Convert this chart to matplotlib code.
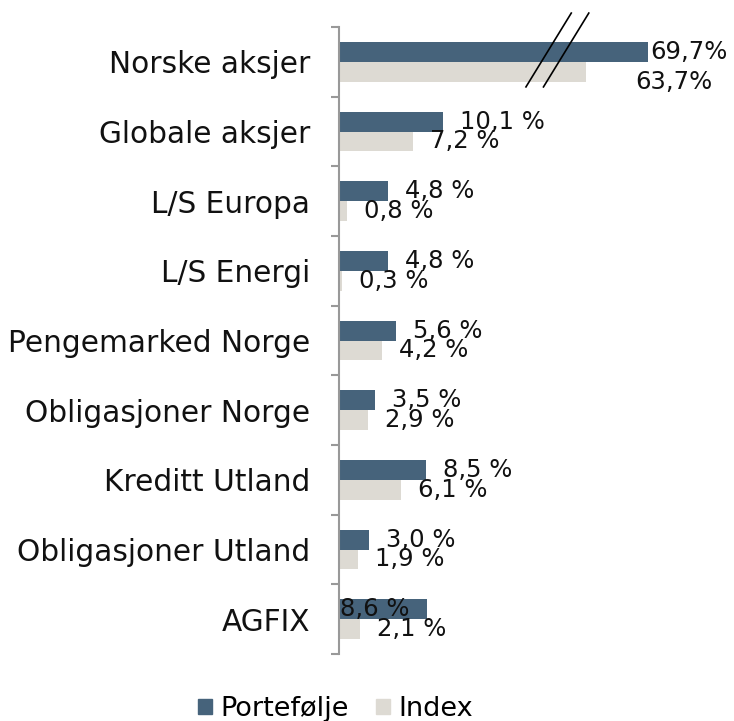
import matplotlib
matplotlib.use("Agg")
import matplotlib.pyplot as plt
from matplotlib.patches import Patch
import numpy as np

categories = ["Norske aksjer", "Globale aksjer", "L/S Europa", "L/S Energi",
              "Pengemarked Norge", "Obligasjoner Norge", "Kreditt Utland",
              "Obligasjoner Utland", "AGFIX"]
portefolje = [69.7, 10.1, 4.8, 4.8, 5.6, 3.5, 8.5, 3.0, 8.6]
index_vals = [63.7, 7.2, 0.8, 0.3, 4.2, 2.9, 6.1, 1.9, 2.1]
portefolje_labels = ["69,7%", "10,1 %", "4,8 %", "4,8 %", "5,6 %", "3,5 %", "8,5 %", "3,0 %", "8,6 %"]
index_labels = ["63,7%", "7,2 %", "0,8 %", "0,3 %", "4,2 %", "2,9 %", "6,1 %", "1,9 %", "2,1 %"]
# broken-axis display lengths for the first category
broken_display = {0: (30.0, 24.0)}

C_PORT = "#46637B"
C_IDX = "#DDDAD3"
FONT = "DejaVu Sans"

W, H, DPI = 734, 721, 100
fig = plt.figure(figsize=(W / DPI, H / DPI), dpi=DPI)
x0, y_top, y_bot = 338.5, 27, 654
xmax = 38.0
px_per = 10.3
ax = fig.add_axes([x0 / W, 1 - y_bot / H, xmax * px_per / W, (y_bot - y_top) / H])

n = len(categories)
ypos = np.arange(n)
bh = 0.287
p_disp = list(portefolje)
i_disp = list(index_vals)
for k, (pv, iv) in broken_display.items():
    p_disp[k] = pv
    i_disp[k] = iv

ax.barh(ypos - bh / 2, p_disp, height=bh, color=C_PORT, label="Portefølje")
ax.barh(ypos + bh / 2, i_disp, height=bh, color=C_IDX, label="Index")

ax.set_ylim(n - 0.5, -0.5)
ax.set_xlim(0, xmax)

# label offsets in pixels (dx, dy)
p_off = {0: (3, 0), 8: (-87, 0)}
i_off = {0: (50, -10)}
fs_val = 17.5
to_pt = 72 / DPI
for k in range(n):
    dx, dy = p_off.get(k, (17, 0))
    ax.annotate(portefolje_labels[k], (p_disp[k], ypos[k] - bh / 2),
                xytext=(dx * to_pt, dy * to_pt), textcoords="offset points",
                ha="left", va="center", fontsize=fs_val, family=FONT, color="#111111",
                annotation_clip=False)
    dx, dy = i_off.get(k, (17, 0))
    ax.annotate(index_labels[k], (i_disp[k], ypos[k] + bh / 2),
                xytext=(dx * to_pt, dy * to_pt), textcoords="offset points",
                ha="left", va="center", fontsize=fs_val, family=FONT, color="#111111",
                annotation_clip=False)

# break marks
for xa, xb in [(18.2, 22.6), (19.9, 24.3)]:
    ax.plot([xa, xb], [0.36, -0.70], color="black", lw=1.2, clip_on=False)

ax.set_yticks(ypos)
ax.set_yticklabels(categories, fontsize=21.3, family=FONT, color="#111111")
ax.set_yticks(np.arange(-0.5, n, 1), minor=True)
ax.tick_params(axis="y", which="major", length=0, pad=20.5)
ax.tick_params(axis="y", which="minor", length=8 * to_pt, width=1.5, color="#999999", direction="out")
ax.set_xticks([])
for s in ["top", "right", "bottom"]:
    ax.spines[s].set_visible(False)
ax.spines["left"].set_color("#999999")
ax.spines["left"].set_linewidth(1.5)

handles = [Patch(color=C_PORT), Patch(color=C_IDX)]
fig.legend(handles, ["Portefølje", "Index"], loc="center", bbox_to_anchor=(0.457, 1 - 709 / H),
           ncol=2, frameon=False, prop={"family": FONT, "size": 19.5},
           handlelength=0.52, handleheight=0.52, handletextpad=0.3, columnspacing=1.0,
           borderpad=0.0)

fig.savefig("out.png", dpi=DPI)
